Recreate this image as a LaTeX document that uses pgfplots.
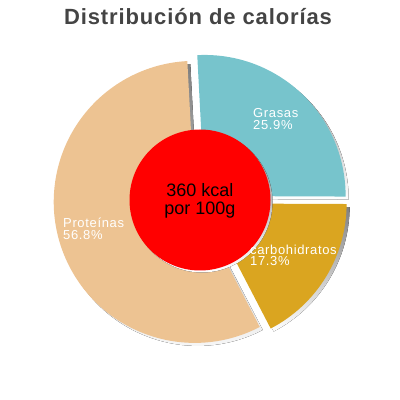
\documentclass[border=0pt]{standalone}
\usepackage{fontspec}
\setmainfont{Liberation Sans}
\usepackage{pgfplots}
\usepackage{pgfplotstable}
\pgfplotsset{compat=1.18}

\definecolor{grasas}{HTML}{77C4CC}
\definecolor{carbs}{HTML}{DAA520}
\definecolor{prot}{HTML}{EDC392}
\definecolor{shade}{HTML}{5E5E5E}
\definecolor{titlegray}{HTML}{444444}

% share of calories, clockwise from the top
\pgfplotstableread{
name          pct   colour
Grasas        25.9  grasas
carbohidratos 17.3  carbs
Proteinas     56.8  prot
}\caltable

% pie geometry (1 unit = 1 px, y upwards)
\def\pcx{200.5}
\def\pcy{199.7}
\def\prad{141}
\def\pexp{6}
\xdef\pacc{93}

\begin{document}
\begin{tikzpicture}
\begin{axis}[
  x=1pt, y=1pt,
  xmin=0, xmax=400, ymin=0, ymax=400,
  hide axis, clip=false,
]
\path (axis cs:0,0) rectangle (axis cs:400,400);

\pgfplotsinvokeforeach{0,1,2}{%
  \pgfplotstablegetelem{#1}{pct}\of\caltable \let\spct\pgfplotsretval
  \pgfplotstablegetelem{#1}{colour}\of\caltable \let\scol\pgfplotsretval
  \pgfmathsetmacro\sfrom{\pacc}
  \pgfmathsetmacro\sto{\pacc-3.6*\spct}
  \pgfmathsetmacro\smid{(\sfrom+\sto)/2}
  \pgfmathsetmacro\sx{\pcx+\pexp*cos(\smid)}
  \pgfmathsetmacro\sy{\pcy+\pexp*sin(\smid)}
  \pgfmathsetmacro\shx{\sx+3}
  \pgfmathsetmacro\shy{\sy-3}
  \xdef\pacc{\sto}
  \edef\cmd{%
    \noexpand\fill[shade] (axis cs:\shx,\shy) -- ++(\sfrom:\prad pt)
      arc[start angle=\sfrom, end angle=\sto, radius=\prad pt] -- cycle;
    \noexpand\fill[\scol] (axis cs:\sx,\sy) -- ++(\sfrom:\prad pt)
      arc[start angle=\sfrom, end angle=\sto, radius=\prad pt] -- cycle;
  }%
  \cmd
}

% centre disc
\fill[shade] (axis cs:202,198) circle[radius=70.5pt];
\fill[red] (axis cs:200,200) circle[radius=70.5pt];
\node[font=\fontsize{18}{19}\selectfont, anchor=base] at (axis cs:200,204) {360 kcal};
\node[font=\fontsize{18}{19}\selectfont, anchor=base] at (axis cs:200,185) {por 100g};

% slice labels
\tikzset{lab/.style={font=\fontsize{13}{13}\selectfont\addfontfeature{LetterSpace=5},
  text=white, anchor=base west, inner sep=0pt}}
\node[lab] at (axis cs:253,282.3) {Grasas};
\node[lab] at (axis cs:253,270.7) {25.9\%};
\node[lab] at (axis cs:250,145.7) {carbohidratos};
\node[lab] at (axis cs:250,134) {17.3\%};
\node[lab] at (axis cs:63,172.7) {Proteínas};
\node[lab] at (axis cs:63,160.7) {56.8\%};

% title
\node[font=\fontsize{22}{24}\selectfont\bfseries\addfontfeature{LetterSpace=4},
  text=titlegray, anchor=base]
  at (axis cs:198,375) {Distribución de calorías};
\end{axis}
\end{tikzpicture}
\end{document}
